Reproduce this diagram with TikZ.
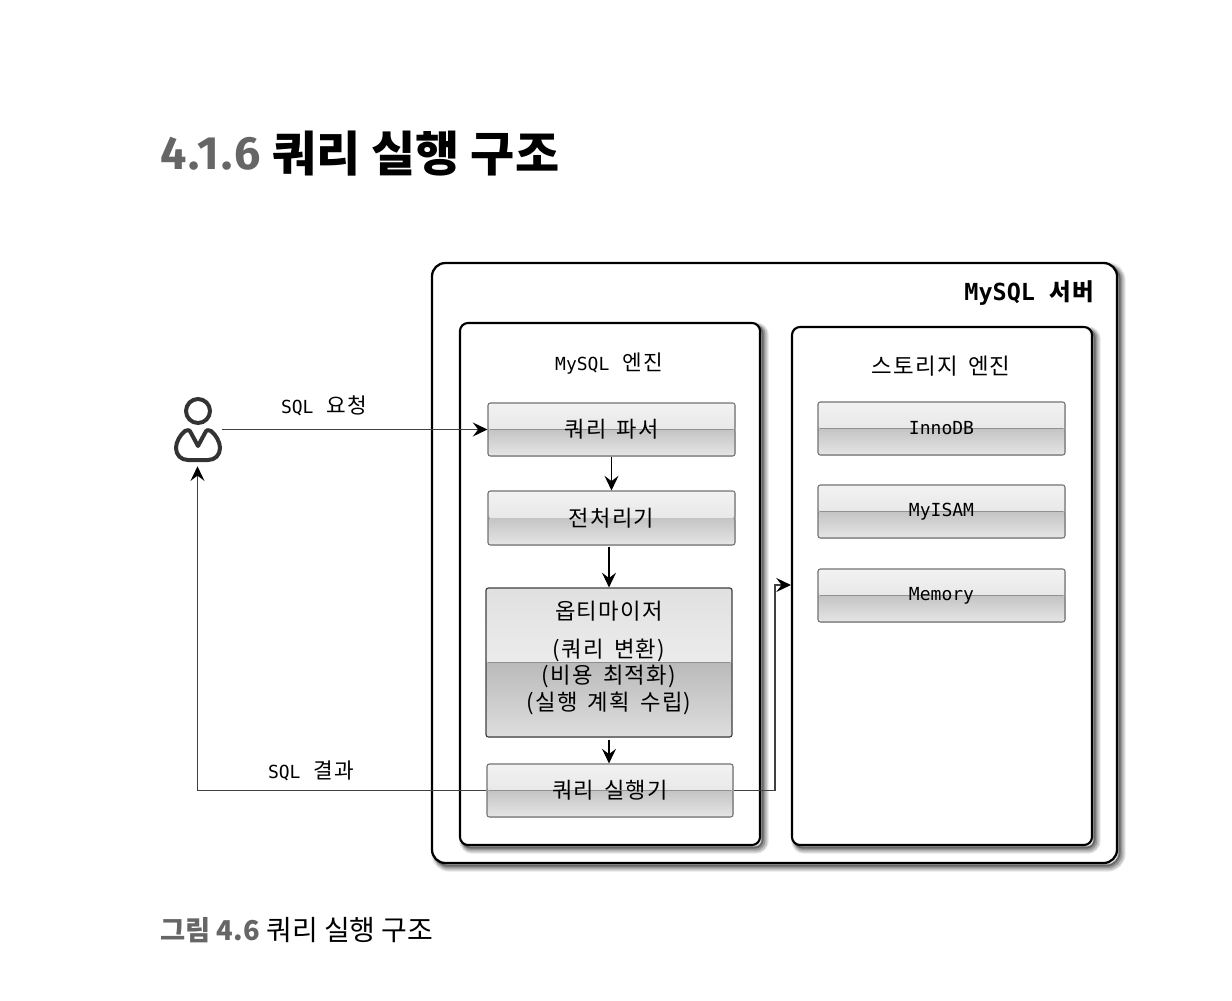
\documentclass[tikz,border=0pt]{standalone}
\usepackage{fontspec}
\usetikzlibrary{arrows.meta,positioning,calc}
\setmainfont{DejaVu Sans Mono}
\newfontfamily\krf[LetterSpace=6,WordSpace=1.6]{Noto Sans CJK KR}
\newfontfamily\krhead[WordSpace=1.0]{Noto Sans CJK KR}
\newfontfamily\krcap[WordSpace=1.0]{Noto Sans CJK KR}
\newfontfamily\mono{DejaVu Sans Mono}
\newfontfamily\latb[LetterSpace=5]{Fira Sans}
\definecolor{capgray}{gray}{0.40}
\definecolor{linegray}{gray}{0.25}
\definecolor{edgegray}{gray}{0.45}
\tikzset{
  x=0.75pt,y=-0.75pt,
  softshadow/.style={
    preaction={draw=black,opacity=0.10,line width=7pt,transform canvas={xshift=3pt,yshift=-3pt}},
    preaction={draw=black,opacity=0.15,line width=5pt,transform canvas={xshift=3pt,yshift=-3pt}},
    preaction={draw=black,opacity=0.22,line width=3pt,transform canvas={xshift=2.6pt,yshift=-2.6pt}},
    preaction={draw=black,opacity=0.30,line width=1.4pt,transform canvas={xshift=2pt,yshift=-2pt}}},
  outerbox/.style={draw=black,line width=1.7pt,fill=white,rounded corners=10pt,softshadow,inner sep=0pt},
  innerbox/.style={draw=black,line width=1.6pt,fill=white,rounded corners=6pt,softshadow,inner sep=0pt},
  glossbox/.style={draw=edgegray,line width=0.8pt,rounded corners=1.8pt,inner sep=0pt,align=center,
    font=\fontsize{16.6}{19.5}\selectfont,
    path picture={
      \fill[top color=gray!10!white,bottom color=gray!26!white]
        (path picture bounding box.north west) rectangle (path picture bounding box.east);
      \fill[top color=gray!46!white,bottom color=gray!20!white]
        (path picture bounding box.west) rectangle (path picture bounding box.south east);
    }},
  optbox/.style={draw=black!75,line width=0.9pt,rounded corners=1.8pt,inner sep=0pt,
    path picture={
      \fill[top color=gray!24!white,bottom color=gray!6!white]
        (path picture bounding box.north west) rectangle (path picture bounding box.east);
      \fill[top color=gray!54!white,bottom color=gray!26!white]
        (path picture bounding box.west) rectangle (path picture bounding box.south east);
    }},
  opttext/.style={inner sep=0pt,align=center,font=\fontsize{16.7}{19.9}\selectfont\krf},
  lbl/.style={inner sep=0pt,font=\fontsize{16}{18}\selectfont},
  conn/.style={draw=linegray,line width=0.9pt,-{Stealth[length=11pt,width=10.5pt,inset=4pt,black]}},
  connb/.style={draw=black,line width=0.9pt,-{Stealth[length=11pt,width=10.5pt,inset=4pt,black]}},
  person/.style={draw=black!80,line width=3pt,fill=none},
}
\newcommand{\boxat}[6]{\node[#1,minimum width=#4*0.75pt,minimum height=#5*0.75pt] (#2) at (#3) {#6};}
\begin{document}
\begin{tikzpicture}
\useasboundingbox[fill=white] (0,0) rectangle (1232,1000);

% headings
\node[anchor=west,inner sep=0pt,text=capgray] (headnum) at (160,154) {\fontsize{35}{38}\latb\bfseries 4.1.6};
\node[anchor=west,inner sep=0pt] (headtxt) at (272,154) {\fontsize{36}{40}\krhead\bfseries 쿼리 실행 구조};
\node[anchor=west,inner sep=0pt,text=capgray] (capnum) at (160,930) {\fontsize{20.5}{24}\krcap\bfseries 그림 4.6};
\node[anchor=west,inner sep=0pt] (captxt) at (266,930) {\fontsize{21}{24}\krcap 쿼리 실행 구조};

% containers
\node[outerbox,minimum width=685*0.75pt,minimum height=600*0.75pt] (server) at (774.5,563) {};
\node[innerbox,minimum width=300*0.75pt,minimum height=522*0.75pt] (engine) at (610,584) {};
\node[innerbox,minimum width=300*0.75pt,minimum height=518*0.75pt] (storage) at (942,586) {};

\node[lbl,anchor=east] (srvlbl) at (1094,293) {\fontsize{17.6}{20}\mono\bfseries MySQL \krf\bfseries 서버};
\node[lbl] (englbl) at (609,364) {{\mono\fontsize{13.5}{18}\selectfont MySQL} {\krf 엔진}};
\node[lbl] (stolbl) at (941,366) {\fontsize{16.8}{18}\krf 스토리지 엔진};

% left column
\boxat{glossbox}{parser}{611.5,429.5}{247}{53}{\krf 쿼리 파서}
\boxat{glossbox}{pre}{611.5,518}{247}{54}{\krf 전처리기}
\boxat{optbox}{opt}{609,662.5}{246}{149}{}
\node[opttext] (opttxt) at (609,658) {옵티마이저\\[8pt](쿼리 변환)\\(비용 최적화)\\(실행 계획 수립)};
\boxat{glossbox}{exec}{610,790.5}{246}{53}{\krf 쿼리 실행기}

% right column
\boxat{glossbox}{innodb}{941.5,428.5}{247}{53}{\mono\fontsize{13.5}{18}\selectfont InnoDB}
\boxat{glossbox}{myisam}{941.5,511.5}{247}{53}{\mono\fontsize{13.5}{18}\selectfont MyISAM}
\boxat{glossbox}{memory}{941.5,595.5}{247}{53}{\mono\fontsize{13.5}{18}\selectfont Memory}

% person icon
\node[minimum width=49*0.75pt,minimum height=68*0.75pt,inner sep=0pt] (user) at (197.5,432) {};
\draw[person] (198,411) circle[radius=12];
\draw[person,line join=round] (198,446)
  -- (191,433)
  .. controls (190,430) and (187,429) .. (185,431)
  .. controls (180,435) and (176,442) .. (176,448)
  .. controls (176,455) and (181,460) .. (188,460)
  -- (208,460)
  .. controls (215,460) and (220,455) .. (220,448)
  .. controls (220,442) and (216,435) .. (211,431)
  .. controls (209,429) and (206,430) .. (205,433)
  -- cycle;

% connectors
\draw[conn] (user.east |- parser.west) -- (parser.west);
\draw[connb] (parser.south) -- (pre.north);
\draw[connb] (opt.north |- pre.south) ++(0,1) -- (opt.north);
\draw[connb] (opt.south) ++(0,2) -- (exec.north -| opt.south);
\draw[conn] (exec.west) -| (user.south);
\coordinate (stoin) at (storage.west |- 0,585);
\draw[conn] (exec.east) -| ($(stoin)+(-16,0)$) -- (stoin);

\node[lbl,anchor=center] (reqlbl) at (324,406) {{\mono\fontsize{13.5}{18}\selectfont SQL} {\krf 요청}};
\node[lbl,anchor=center] (reslbl) at (311,771) {{\mono\fontsize{13.5}{18}\selectfont SQL} {\krf 결과}};
\end{tikzpicture}
\end{document}
